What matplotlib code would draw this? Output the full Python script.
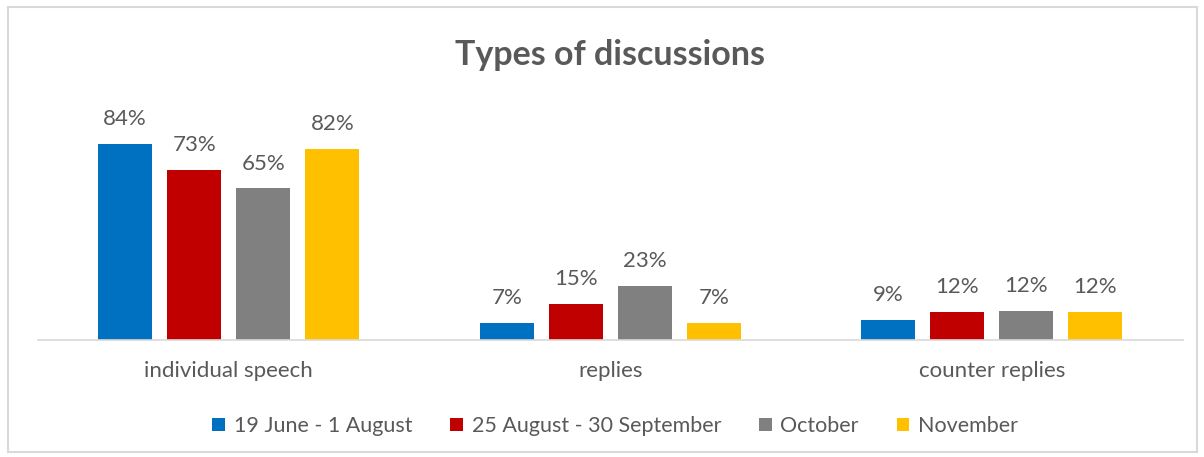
import numpy as np
import matplotlib.pyplot as plt
from matplotlib.patches import Rectangle

plt.rcParams['font.family'] = ['Lato', 'DejaVu Sans']

categories = ['individual speech', 'replies', 'counter replies']
series_names = ['19 June - 1 August', '25 August - 30 September', 'October', 'November']
# percentages
values = [
    [84.0, 7.3, 8.6],
    [73.0, 15.4, 12.0],
    [65.0, 23.1, 12.4],
    [82.0, 7.3, 12.0],
]
colors = ['#0070C0', '#C00000', '#808080', '#FFC000']
text_col = '#595959'

fig = plt.figure(figsize=(12.04, 4.57), dpi=100)
ax = fig.add_axes([0.0316, 0.256, 0.9506, 0.503])

x = np.arange(len(categories))
pitch = 0.181
width = 0.1416
for i, (name, vals) in enumerate(zip(series_names, values)):
    pos = x + (i - 1.5) * pitch
    bars = ax.bar(pos, vals, width, color=colors[i], label=name)
    for b, v in zip(bars, vals):
        ax.annotate(f'{v:.0f}%', (b.get_x() + b.get_width() / 2, v),
                    xytext=(0, 13.5), textcoords='offset points',
                    ha='center', va='baseline', fontsize=16, color=text_col)

ax.set_xlim(-0.5, 2.5)
ax.set_ylim(0, 98.6)
ax.set_yticks([])
ax.set_xticks(x)
ax.set_xticklabels(categories, fontsize=16, color=text_col)
ax.tick_params(axis='x', length=0, pad=15)
for s in ['top', 'right', 'left']:
    ax.spines[s].set_visible(False)
ax.spines['bottom'].set_color('#d9d9d9')
ax.spines['bottom'].set_linewidth(1.2)

fig.text(0.507, 0.879, 'Types of discussions', ha='center', va='center',
         fontsize=24.5, fontweight='bold', color=text_col)

leg = fig.legend(loc='center', bbox_to_anchor=(0.511, 0.068), ncol=4, frameon=False,
                 fontsize=15.5, handlelength=0.6, handleheight=0.6, handletextpad=0.4,
                 columnspacing=1.75, labelcolor=text_col)

fig.patches.append(Rectangle((0.007, 0.011), 0.987, 0.973, transform=fig.transFigure,
                             fill=False, edgecolor='#d9d9d9', linewidth=1.5))

fig.savefig('out.png', dpi=100)
